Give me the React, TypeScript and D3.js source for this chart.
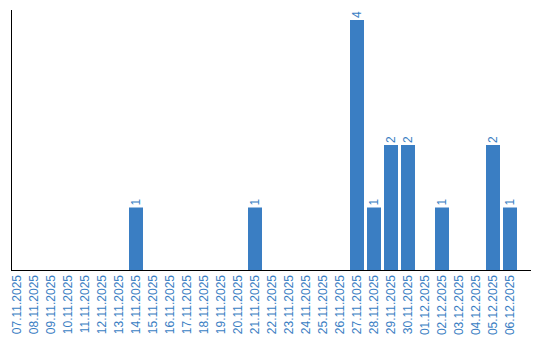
import React from "react";
import * as d3 from "d3";

const dates = [
  "07.11.2025", "08.11.2025", "09.11.2025", "10.11.2025", "11.11.2025",
  "12.11.2025", "13.11.2025", "14.11.2025", "15.11.2025", "16.11.2025",
  "17.11.2025", "18.11.2025", "19.11.2025", "20.11.2025", "21.11.2025",
  "22.11.2025", "23.11.2025", "24.11.2025", "25.11.2025", "26.11.2025",
  "27.11.2025", "28.11.2025", "29.11.2025", "30.11.2025", "01.12.2025",
  "02.12.2025", "03.12.2025", "04.12.2025", "05.12.2025", "06.12.2025",
];
const counts = [
  0, 0, 0, 0, 0, 0, 0, 1, 0, 0,
  0, 0, 0, 0, 1, 0, 0, 0, 0, 0,
  4, 1, 2, 2, 0, 1, 0, 0, 2, 1,
];

const W = 540;
const H = 340;
const BLUE = "#3a7ec3";
const FONT = "'Liberation Sans', Arial, sans-serif";

export default function App() {
  const x = d3.scaleBand<string>().domain(dates).range([10, 517]).paddingInner(3 / 17).paddingOuter(0);
  const y = d3.scaleLinear().domain([0, 4]).range([270, 20]);
  const data = dates.map((d, i) => ({ d, v: counts[i] }));
  return (
    <svg width={W} height={H} style={{ position: "absolute", left: 0, top: 0 }}>
      <rect width={W} height={H} fill="#fff" />
      {data.filter((e) => e.v > 0).map((e) => (
        <rect key={e.d} x={x(e.d)} y={y(e.v)} width={x.bandwidth()} height={y(0) - y(e.v)} fill={BLUE} />
      ))}
      {data.filter((e) => e.v > 0).map((e) => (
        <text
          key={"v" + e.d}
          transform={`translate(${(x(e.d) as number) + x.bandwidth() / 2},${y(e.v) - 2}) rotate(-90)`}
          dy="0.35em"
          textAnchor="start"
          fontFamily={FONT}
          fontSize={12}
          fill={BLUE}
        >
          {e.v}
        </text>
      ))}
      {dates.map((d) => (
        <text
          key={"l" + d}
          transform={`translate(${(x(d) as number) + x.bandwidth() / 2},275) rotate(-90)`}
          dy="0.35em"
          textAnchor="end"
          fontFamily={FONT}
          fontSize={12}
          fill={BLUE}
        >
          {d}
        </text>
      ))}
      <line x1={11.5} x2={11.5} y1={10} y2={271} stroke="#000" strokeWidth={1} />
      <line x1={11} x2={531} y1={270.5} y2={270.5} stroke="#000" strokeWidth={1} />
    </svg>
  );
}
